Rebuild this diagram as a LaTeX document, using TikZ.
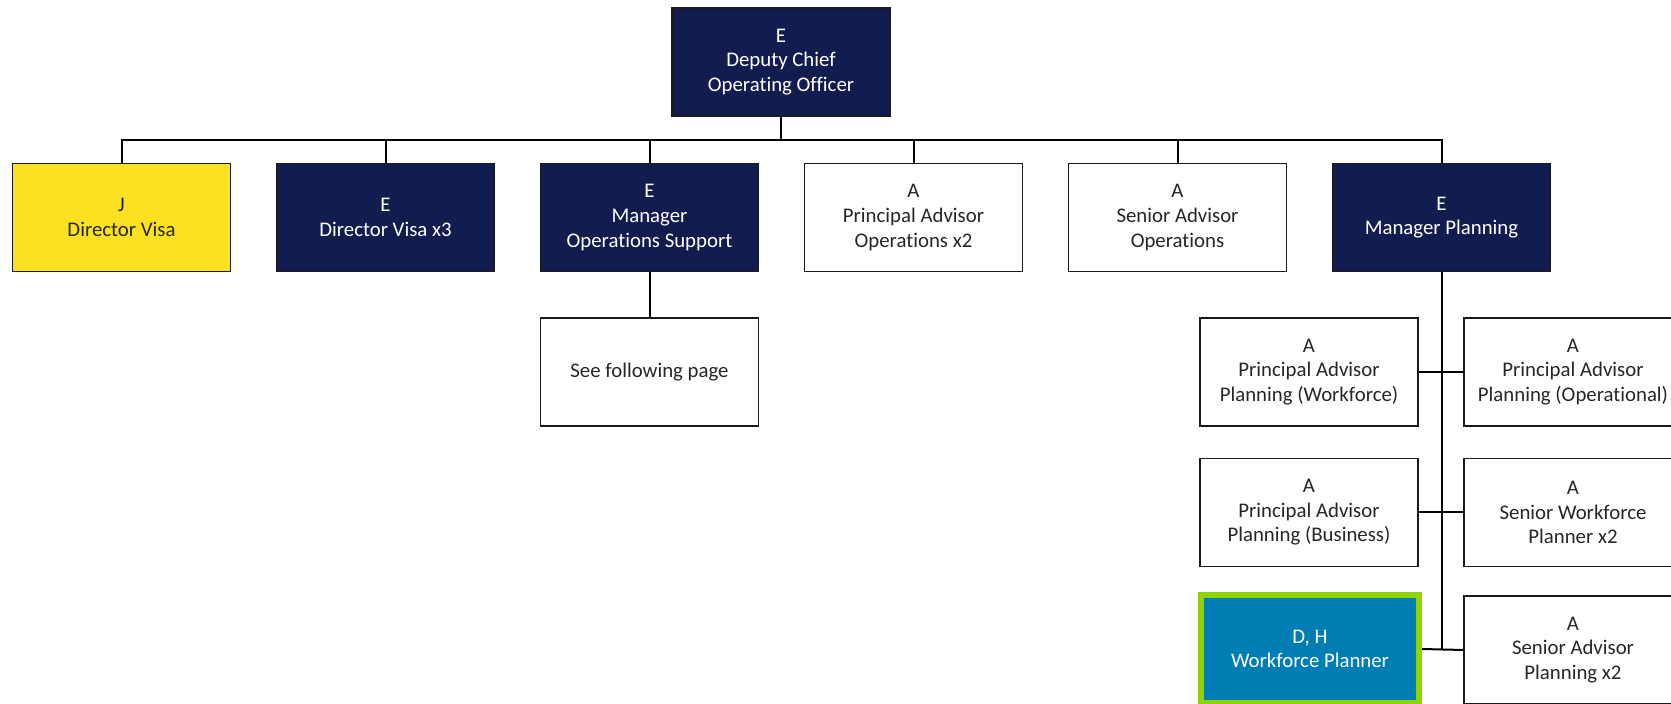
\documentclass[tikz,border=0pt]{standalone}
\usepackage{fontspec}
\setmainfont{Carlito}[Ligatures={NoCommon}]
\definecolor{navy}{HTML}{131C4E}
\definecolor{visayellow}{HTML}{FBE122}
\definecolor{wpblue}{HTML}{007DB3}
\definecolor{wpgreen}{HTML}{8FD400}
\definecolor{boxline}{HTML}{1A1A1A}
\definecolor{textgray}{HTML}{262626}
\begin{document}
\begin{tikzpicture}[x=0.5pt,y=-0.5pt,
  box/.style={draw=boxline, line width=0.75pt, minimum width=109pt, minimum height=54pt,
    align=center, inner sep=0pt, font=\fontsize{10.4}{12.3}\selectfont, text=textgray, fill=white},
  darkbox/.style={box, fill=navy, text=white},
  yellowbox/.style={box, fill=visayellow, text=textgray},
  hibox/.style={box, fill=wpblue, draw=wpgreen, line width=3pt, text=white},
  conn/.style={draw=black, line width=1pt}]
\useasboundingbox (0,0) rectangle (1671,704);
\clip (0,0) rectangle (1671,704);

\node[darkbox] (top) at (781,62) {E\\Deputy Chief\\Operating Officer};

\node[yellowbox] (b1) at (121.5,217.5) {J\\Director Visa};
\node[darkbox] (b2) at (385.5,217.5) {E\\Director Visa x3};
\node[darkbox] (b3) at (649.5,217.5) {E\\Manager\\Operations Support};
\node[box] (b4) at (913.5,217.5) {A\\Principal Advisor\\Operations x2};
\node[box] (b5) at (1177.5,217.5) {A\\Senior Advisor\\Operations};
\node[darkbox] (b6) at (1441.5,217.5) {E\\Manager Planning};

\node[box] (sfp) at (649.5,372) {See following page};

\node[box] (la) at (1309,372) {A\\Principal Advisor\\Planning (Workforce)};
\node[box] (ra) at (1573,372) {A\\Principal Advisor\\Planning (Operational)};
\node[box] (lb) at (1309,512.5) {A\\Principal Advisor\\Planning (Business)};
\node[box] (rb) at (1573,512.5) {A\\Senior Workforce\\Planner x2};
\node[hibox] (wp) at (1310,649) {D, H\\Workforce Planner};
\node[box] (rc) at (1573,650) {A\\Senior Advisor\\Planning x2};

\coordinate (bus) at (0,139.6);
\draw[conn] (top.south) -- (top.south |- bus);
\draw[conn] (b1.north) -- (b1.north |- bus) -- (b6.north |- bus) -- (b6.north);
\foreach \n in {b2,b3,b4,b5} \draw[conn] (\n.north) -- (\n.north |- bus);
\draw[conn] (b3.south) -- (sfp.north);
\draw[conn] (b6.south) -- (b6.south |- rc.west);
\draw[conn] (la.east) -- (ra.west);
\draw[conn] (lb.east) -- (rb.west);
\draw[conn] (wp.east) -- (rc.west);
\end{tikzpicture}
\end{document}
